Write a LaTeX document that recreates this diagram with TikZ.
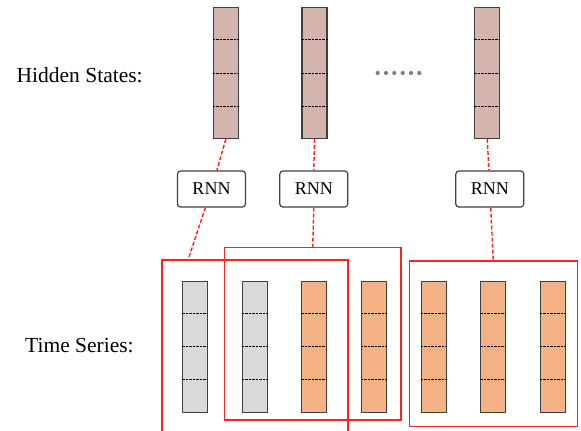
\documentclass[tikz,border=0pt]{standalone}
\usepackage{fontspec}
\setmainfont{Liberation Serif}
\usetikzlibrary{calc}
\definecolor{hidc}{HTML}{D3B5AE}
\definecolor{grayc}{HTML}{D9D9D9}
\definecolor{orc}{HTML}{F4B183}
\definecolor{redc}{HTML}{FF2020}
\begin{document}
\begin{tikzpicture}[x=1pt,y=-1pt,
  bar/.style={draw=black!75, line width=1.3pt, minimum width=25pt, minimum height=131pt, inner sep=0pt},
  hid/.style={bar, fill=hidc},
  gbar/.style={bar, fill=grayc},
  obar/.style={bar, fill=orc},
  sep/.style={black, line width=0.9pt, dash pattern=on 2.5pt off 1pt},
  rnn/.style={draw=black!75, line width=1.2pt, rounded corners=3pt, fill=white, minimum width=68pt, minimum height=36pt, inner sep=0pt, font=\fontsize{18}{20}\selectfont},
  win/.style={draw=redc, line width=1.6pt},
  conn/.style={redc, line width=1.4pt, dash pattern=on 4pt off 2pt},
  lab/.style={anchor=base west, inner sep=0pt, font=\fontsize{21.5}{24}\selectfont},
  dot/.style={circle, fill=black!50, inner sep=0pt, minimum size=4.2pt}
]
\clip (0,0) rectangle (581,431);
% labels
\node[lab] (lh) at (16.5,82.7) {Hidden States:};
\node[lab] (lt) at (25,352.7) {Time Series:};
% red windows
\draw[win] (161.7,260) rectangle (348,440);
\draw[win] (224.3,247.3) rectangle (400.7,420);
\draw[win] (409.3,260.7) rectangle (577.3,426.3);
\coordinate (t1) at (188,260);
\coordinate (t2) at (312.7,247.3);
\coordinate (t3) at (493.3,260.7);
% hidden bars
\node[hid] (h1) at (225.8,73) {};
\node[hid] (h2) at (314.5,73) {};
\node[hid] (h3) at (487.3,73) {};
% dots
\foreach \i [count=\k] in {377.7,386,394.3,402.7,411,419.3}
  \node[dot] (d\k) at (\i,73) {};
% RNN boxes
\node[rnn] (r1) at (211.5,189) {RNN};
\node[rnn] (r2) at (313.8,189) {RNN};
\node[rnn] (r3) at (489.8,189) {RNN};
% connectors
\draw[conn] (h1.south) -- (r1);
\draw[conn] (r1) -- (t1);
\draw[conn] (h2.south) -- (r2.north);
\draw[conn] (r2.south) -- (t2);
\draw[conn] (h3.south) -- (r3);
\draw[conn] (r3) -- (t3);
% time series bars
\node[gbar] (s1) at (195.2,346.7) {};
\node[gbar] (s2) at (254.7,346.7) {};
\node[obar] (s3) at (314.3,346.7) {};
\node[obar] (s4) at (374,346.7) {};
\node[obar] (s5) at (433.7,346.7) {};
\node[obar] (s6) at (493.3,346.7) {};
\node[obar] (s7) at (553,346.7) {};
% separators
\foreach \n in {h1,h2,h3,s1,s2,s3,s4,s5,s6,s7}
  \foreach \f in {0.25,0.5,0.75}
    \draw[sep] ($(\n.north west)!\f!(\n.south west)$) -- ($(\n.north east)!\f!(\n.south east)$);
\end{tikzpicture}
\end{document}
